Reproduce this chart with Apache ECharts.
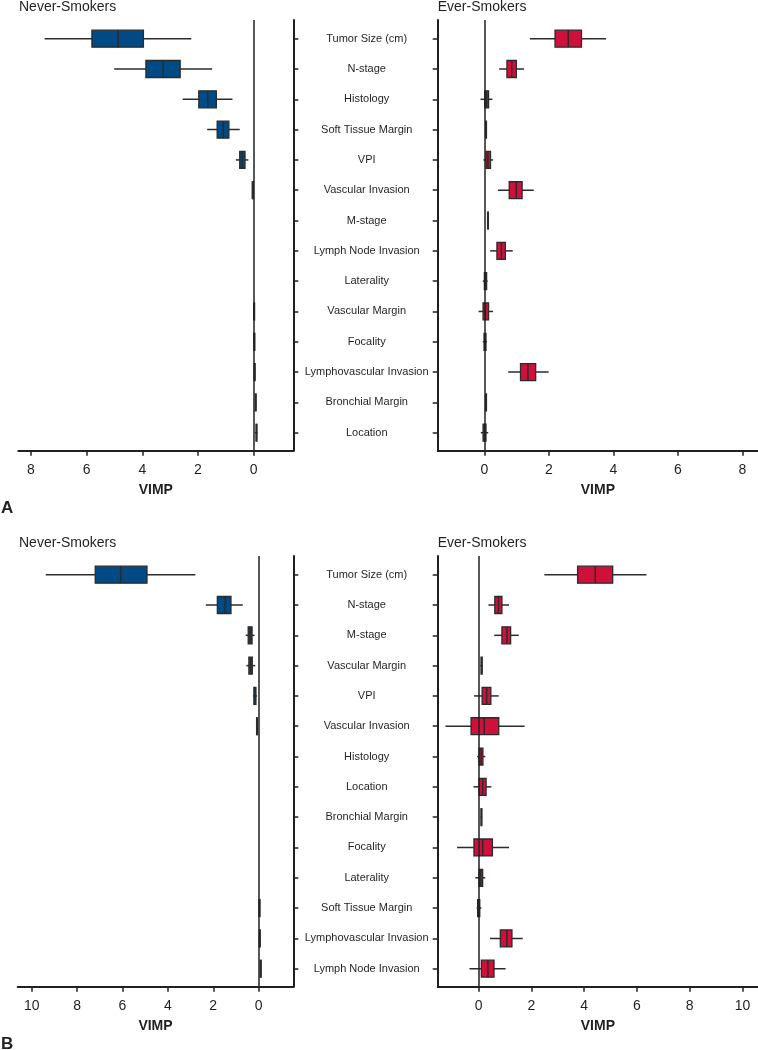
<!DOCTYPE html>
<html>
<head>
<meta charset="utf-8">
<script src="https://cdn.jsdelivr.net/npm/echarts@6/dist/echarts.min.js"></script>
<style>
html,body{margin:0;padding:0;background:#fff;}
#chart{width:758px;height:1050px;}
</style>
</head>
<body>
<div id="chart"></div>
<script>
// ---------- DATA ----------
const categoriesA = ['Tumor Size (cm)','N-stage','Histology','Soft Tissue Margin','VPI','Vascular Invasion','M-stage','Lymph Node Invasion','Laterality','Vascular Margin','Focality','Lymphovascular Invasion','Bronchial Margin','Location'];
const categoriesB = ['Tumor Size (cm)','N-stage','M-stage','Vascular Margin','VPI','Vascular Invasion','Histology','Location','Bronchial Margin','Focality','Laterality','Soft Tissue Margin','Lymphovascular Invasion','Lymph Node Invasion'];

// [min, Q1, median, Q3, max]
const neverA = [
  [2.24,3.96,4.87,5.81,7.51],
  [1.49,2.64,3.25,3.87,5.01],
  [0.76,1.34,1.65,1.97,2.55],
  [0.50,0.89,1.09,1.31,1.67],
  [0.19,0.31,0.41,0.50,0.64],
  [0.03,0.035,0.04,0.045,0.05],
  [0,0,0,0,0],
  [0,0,0,0,0],
  [0,0,0,0,0],
  [-0.02,-0.015,-0.01,-0.005,0],
  [-0.03,-0.025,-0.02,-0.015,-0.01],
  [-0.04,-0.035,-0.03,-0.025,-0.02],
  [-0.10,-0.08,-0.07,-0.06,-0.04],
  [-0.14,-0.11,-0.10,-0.09,-0.05]
];
const everA = [
  [1.41,2.19,2.60,3.01,3.77],
  [0.46,0.70,0.85,0.99,1.23],
  [-0.12,0.01,0.07,0.13,0.25],
  [0.03,0.04,0.05,0.06,0.07],
  [-0.03,0.05,0.11,0.19,0.27],
  [0.42,0.77,0.99,1.17,1.53],
  [0.08,0.10,0.11,0.12,0.14],
  [0.18,0.39,0.53,0.65,0.88],
  [-0.05,0.00,0.03,0.07,0.10],
  [-0.18,-0.04,0.03,0.13,0.27],
  [-0.05,-0.01,0.02,0.05,0.08],
  [0.74,1.12,1.35,1.59,1.99],
  [0.03,0.04,0.05,0.06,0.07],
  [-0.11,-0.04,0.00,0.05,0.12]
];
const neverB = [
  [2.79,4.92,6.08,7.20,9.38],
  [0.70,1.22,1.48,1.82,2.33],
  [0.18,0.29,0.37,0.46,0.57],
  [0.15,0.28,0.35,0.43,0.54],
  [0.07,0.12,0.16,0.21,0.25],
  [0.04,0.05,0.07,0.09,0.10],
  [0,0,0,0,0],
  [0,0,0,0,0],
  [0,0,0,0,0],
  [0,0,0,0,0],
  [0,0,0,0,0],
  [-0.04,-0.035,-0.03,-0.025,-0.02],
  [-0.05,-0.045,-0.04,-0.035,-0.03],
  [-0.12,-0.11,-0.09,-0.07,-0.06]
];
const everB = [
  [2.49,3.75,4.42,5.08,6.36],
  [0.37,0.61,0.75,0.88,1.15],
  [0.59,0.88,1.07,1.21,1.52],
  [0.06,0.09,0.11,0.13,0.16],
  [-0.18,0.13,0.30,0.46,0.76],
  [-1.26,-0.29,0.21,0.76,1.74],
  [-0.06,0.01,0.09,0.16,0.25],
  [-0.20,0.01,0.15,0.28,0.48],
  [0.07,0.09,0.10,0.11,0.13],
  [-0.82,-0.18,0.15,0.52,1.15],
  [-0.13,0.01,0.08,0.15,0.25],
  [-0.08,-0.04,0.00,0.04,0.10],
  [0.43,0.82,1.07,1.26,1.67],
  [-0.35,0.10,0.35,0.58,1.02]
];
const ticksA = [0,2,4,6,8];
const ticksB = [0,2,4,6,8,10];

// ---------- STYLE ----------
const INK = '#231f20';
const BLUE = '#004a86';
const RED = '#d0103a';
const FONT = "'Liberation Sans', Arial, Helvetica, sans-serif";

function rows(stats){ return stats.map((s,i)=>[i].concat(s)); }
function catIdx(cats){ return cats.map((_,i)=>i); }

function makeRender(color){
  return function(params, api){
    const y = api.value(0);
    if (Math.abs(api.value(5) - api.value(1)) < 1e-9) return null;
    const pMin = api.coord([api.value(1), y]);
    const pQ1 = api.coord([api.value(2), y]);
    const pMed = api.coord([api.value(3), y]);
    const pQ3 = api.coord([api.value(4), y]);
    const pMax = api.coord([api.value(5), y]);
    const h = api.size([0,1])[1] * 0.56;
    const cy = pMed[1];
    const x1 = Math.min(pQ1[0], pQ3[0]);
    const x2 = Math.max(pQ1[0], pQ3[0]);
    return {
      type:'group',
      children:[
        {type:'line', shape:{x1:pMin[0], y1:cy, x2:pMax[0], y2:cy}, style:{stroke:'#2b2b2b', lineWidth:1.5}},
        {type:'rect', shape:{x:x1, y:cy-h/2, width:Math.max(x2-x1,0.8), height:h}, style:{fill:color, stroke:'#2b2b2b', lineWidth:1.3}},
        {type:'line', shape:{x1:pMed[0], y1:cy-h/2, x2:pMed[0], y2:cy+h/2}, style:{stroke:'#2b2b2b', lineWidth:1.5}}
      ]
    };
  };
}

const grids = [
  {left:18.3, width:275, top:20, height:430.7},
  {left:437.7, width:320.3, top:20, height:430.7},
  {left:17.7, width:275.6, top:556, height:430.7},
  {left:437.7, width:320.3, top:556, height:430.7}
].map(g=>Object.assign({outerBoundsMode:'none', containLabel:false}, g));

function xAxis(gi, min, max, inverse, ticks){
  return {
    gridIndex:gi, type:'value', min:min, max:max, inverse:inverse,
    position:'bottom',
    splitLine:{show:false},
    axisLine:{show:true, onZero:false, lineStyle:{color:INK, width:2}},
    axisTick:{show:true, inside:false, length:5, customValues:ticks, lineStyle:{color:INK, width:1.5}},
    axisLabel:{show:true, customValues:ticks, margin:12, fontSize:14, color:INK, fontFamily:FONT},
    name:'VIMP', nameLocation:'middle', nameGap:32,
    nameTextStyle:{fontSize:14, fontWeight:'bold', color:INK, fontFamily:FONT}
  };
}
function yAxis(gi, cats, side, showLabels){
  return {
    gridIndex:gi, type:'value', inverse:true, min:-0.617, max:13.594,
    position:side,
    splitLine:{show:false},
    axisLine:{show:true, onZero:false, lineStyle:{color:INK, width:2}},
    axisTick:{show:true, inside:false, length:5, customValues:catIdx(cats), lineStyle:{color:INK, width:1.5}},
    axisLabel:{show:showLabels, customValues:catIdx(cats), align:'center', margin:71,
      fontSize:11, color:INK, fontFamily:FONT,
      formatter:(v)=>cats[Math.round(v)] || ''}
  };
}
function series(gi, stats, color){
  return {
    type:'custom', xAxisIndex:gi, yAxisIndex:gi,
    renderItem:makeRender(color),
    encode:{x:[1,2,3,4,5], y:0},
    data:rows(stats),
    silent:true,
    markLine:{
      silent:true, symbol:'none', label:{show:false},
      lineStyle:{color:INK, width:1.5, type:'solid'},
      data:[{xAxis:0}]
    },
    z:3
  };
}

function txt(x, top, s, size, weight){
  return {type:'text', left:x, top:top, style:{text:s, fontSize:size, fontWeight:weight||'normal', fill:INK, font:(weight||'normal')+' '+size+'px '+FONT}};
}

const option = {
  animation:false,
  backgroundColor:'#fff',
  textStyle:{fontFamily:FONT},
  grid:grids,
  xAxis:[
    xAxis(0, -1.425, 8.455, true, ticksA),
    xAxis(1, -1.446, 8.48, false, ticksA),
    xAxis(2, -1.527, 10.617, true, ticksB),
    xAxis(3, -1.555, 10.59, false, ticksB)
  ],
  yAxis:[
    yAxis(0, categoriesA, 'right', false),
    yAxis(1, categoriesA, 'left', true),
    yAxis(2, categoriesB, 'right', false),
    yAxis(3, categoriesB, 'left', true)
  ],
  series:[
    series(0, neverA, BLUE),
    series(1, everA, RED),
    series(2, neverB, BLUE),
    series(3, everB, RED)
  ],
  graphic:[
    txt(19, 0, 'Never-Smokers', 14),
    txt(437.7, 0, 'Ever-Smokers', 14),
    txt(19, 536, 'Never-Smokers', 14),
    txt(437.7, 536, 'Ever-Smokers', 14),
    txt(1, 500, 'A', 17, 'bold'),
    txt(1, 1036, 'B', 17, 'bold')
  ]
};

const chart = echarts.init(document.getElementById('chart'), null, {renderer:'canvas'});
chart.setOption(option);
</script>
</body>
</html>
